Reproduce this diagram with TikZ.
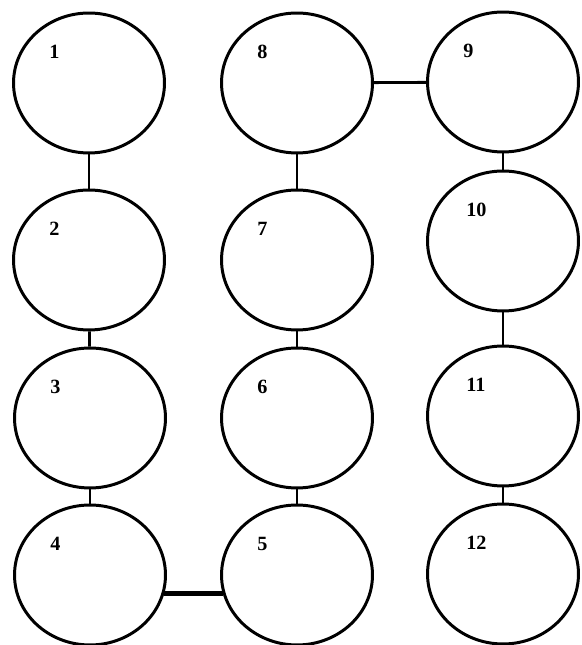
\documentclass[tikz,border=0pt]{standalone}
\usepackage{fontspec}
\setmainfont{Liberation Serif}
\usetikzlibrary{shapes.geometric}
\begin{document}
\begin{tikzpicture}[x=0.02cm,y=0.02cm,
  stage/.style={draw,ellipse,line width=1.7pt,minimum width=3.02cm,minimum height=2.8cm,inner sep=0pt},
  num/.style={anchor=west,inner sep=0pt,xshift=-0.8cm,yshift=0.62cm,font=\fontsize{11.5}{13}\selectfont\bfseries},
  link/.style={line width=1.6pt}]
  \useasboundingbox (0,0) rectangle (581,645);
  \node[stage] (c1) at (89,562) {};
  \node[stage] (c2) at (89,385) {};
  \node[stage] (c3) at (90,227) {};
  \node[stage] (c4) at (90,70) {};
  \node[stage] (c5) at (297,70) {};
  \node[stage] (c6) at (297,227) {};
  \node[stage] (c7) at (297,385) {};
  \node[stage] (c8) at (297,562) {};
  \node[stage] (c9) at (503,563) {};
  \node[stage] (c10) at (503,404) {};
  \node[stage] (c11) at (503,229) {};
  \node[stage] (c12) at (503,71) {};
  \node[num] (n1) at (c1) {1};
  \node[num] (n2) at (c2) {2};
  \node[num] (n3) at (c3) {3};
  \node[num] (n4) at (c4) {4};
  \node[num] (n5) at (c5) {5};
  \node[num] (n6) at (c6) {6};
  \node[num] (n7) at (c7) {7};
  \node[num] (n8) at (c8) {8};
  \node[num] (n9) at (c9) {9};
  \node[num,xshift=0.06cm] (n10) at (c10) {10};
  \node[num,xshift=0.06cm] (n11) at (c11) {11};
  \node[num,xshift=0.06cm] (n12) at (c12) {12};
  \draw[link] (c1) -- (c2);
  \draw[link] (c2) -- (c3);
  \draw[link] (c3) -- (c4);
  \draw[link,line width=2.4pt] (c4.-14) -- (c5.-166);
  \draw[link] (c5) -- (c6);
  \draw[link] (c6) -- (c7);
  \draw[link] (c7) -- (c8);
  \draw[link] (c8) -- (c9);
  \draw[link] (c9) -- (c10);
  \draw[link] (c10) -- (c11);
  \draw[link] (c11) -- (c12);
\end{tikzpicture}
\end{document}
